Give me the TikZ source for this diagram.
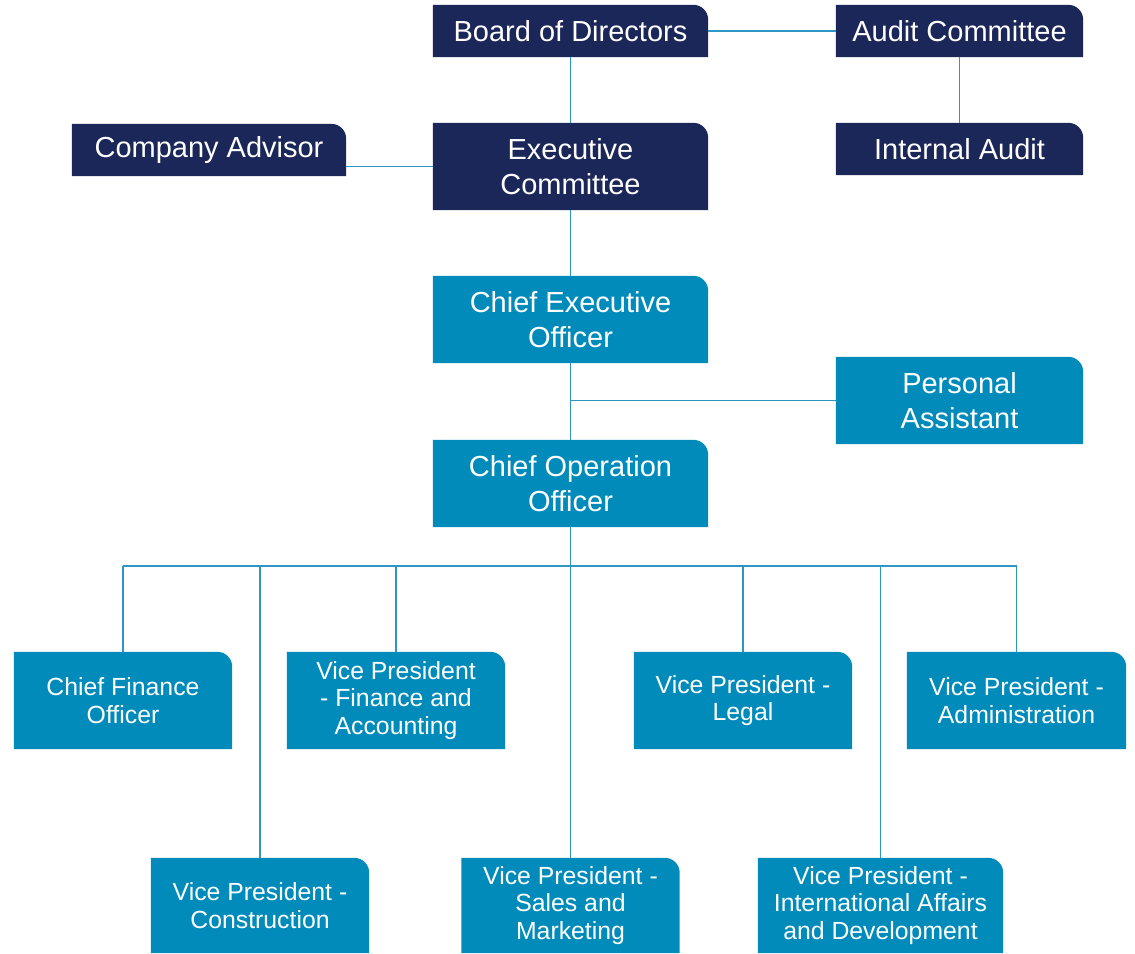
\documentclass[tikz,border=0pt]{standalone}
\usepackage{fontspec}
\setmainfont{Liberation Sans}
\usetikzlibrary{backgrounds}
\definecolor{navy}{RGB}{27,38,89}
\definecolor{boxteal}{RGB}{0,139,186}
\definecolor{linec}{RGB}{45,150,195}
\tikzset{
  base/.style={inner sep=0pt, text=white, align=center},
  big/.style={base, font=\fontsize{29}{35}\selectfont, minimum width=275pt},
  small/.style={base, font=\fontsize{24.8}{27.5}\selectfont, minimum width=218pt, minimum height=97pt},
  link/.style={draw=linec, line width=1.3pt},
}
\newcommand\boxfill[2]{\fill[#2] (#1.south west) -- (#1.north west) -- ([xshift=-15pt]#1.north east) .. controls ([xshift=-6.7pt]#1.north east) and ([yshift=-6.7pt]#1.north east) .. ([yshift=-15pt]#1.north east) -- (#1.south east) -- cycle;}
\begin{document}
\begin{tikzpicture}[x=1pt, y=-1pt]
\useasboundingbox (0,0) rectangle (1135,953);
% top part
\node[big, minimum height=52pt] (board) at (570.5,31) {Board of Directors};
\node[big, minimum height=52pt, minimum width=247pt] (audit) at (959.5,31) {Audit Committee};
\node[big, minimum height=52pt, minimum width=274pt] (advisor) at (209,150) {Company Advisor};
\node[big, minimum height=87pt] (exec) at (570.5,166.5) {Executive\\Committee};
\node[big, minimum height=52pt, minimum width=247pt] (internal) at (959.5,149) {Internal Audit};
\node[big, minimum height=87pt] (ceo) at (570.5,319.5) {Chief Executive\\Officer};
\node[big, minimum height=87pt, minimum width=247pt] (pa) at (959.5,400.5) {Personal\\Assistant};
\node[big, minimum height=87pt] (coo) at (570.5,483.5) {Chief Operation\\Officer};
% first row
\node[small] (cfo) at (123,700.5) {Chief Finance\\Officer};
\node[small] (vpfin) at (396,700.5) {Vice President\\- Finance and\\Accounting};
\node[small] (legal) at (743,700.5) {Vice President -\\Legal};
\node[small, minimum width=219pt] (admin) at (1016.5,700.5) {Vice President -\\Administration};
% second row
\node[small, minimum height=95pt] (constr) at (260,905.5) {Vice President -\\Construction};
\node[small, minimum height=95pt] (sales) at (570.5,905.5) {Vice President -\\Sales and\\Marketing};
\node[small, minimum height=95pt, minimum width=245pt] (intl) at (880.5,905.5) {Vice President -\\International Affairs\\and Development};
\begin{scope}[on background layer]
\boxfill{board}{navy}
\boxfill{audit}{navy}
\boxfill{advisor}{navy}
\boxfill{exec}{navy}
\boxfill{internal}{navy}
\boxfill{ceo}{boxteal}
\boxfill{pa}{boxteal}
\boxfill{coo}{boxteal}
\boxfill{cfo}{boxteal}
\boxfill{vpfin}{boxteal}
\boxfill{legal}{boxteal}
\boxfill{admin}{boxteal}
\boxfill{constr}{boxteal}
\boxfill{sales}{boxteal}
\boxfill{intl}{boxteal}
\end{scope}
% connectors
\coordinate (bus) at (570.5,566);
\draw[link] (board.east) -- (audit.west);
\draw[link] (audit.south) -- (internal.north);
\draw[link] (board.south) -- (exec.north);
\draw[link] (exec.west) -- (exec.west -| advisor.east);
\draw[link] (exec.south) -- (ceo.north);
\draw[link] (ceo.south) -- (coo.north);
\draw[link] (pa.west) -- (pa.west -| ceo.south);
\draw[link] (coo.south) -- (sales.north);
\draw[link] (cfo.north |- bus) -- (admin.north |- bus);
\draw[link] (cfo.north) -- (cfo.north |- bus);
\draw[link] (vpfin.north) -- (vpfin.north |- bus);
\draw[link] (legal.north) -- (legal.north |- bus);
\draw[link] (admin.north) -- (admin.north |- bus);
\draw[link] (constr.north) -- (constr.north |- bus);
\draw[link] (intl.north) -- (intl.north |- bus);
\end{tikzpicture}
\end{document}
